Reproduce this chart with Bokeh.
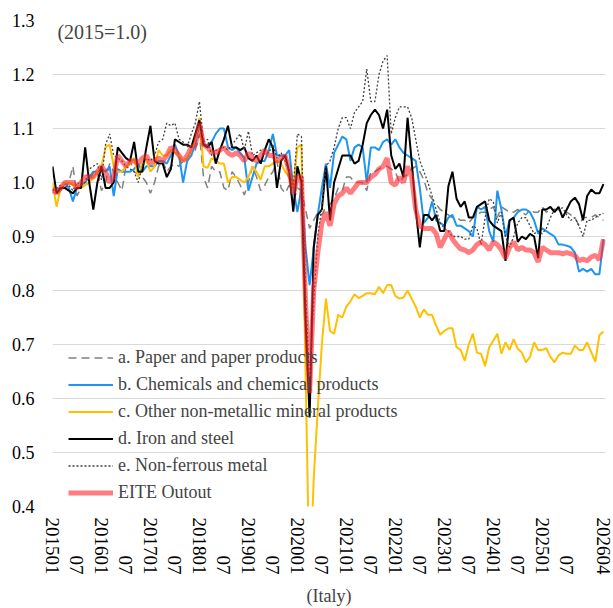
import math
from bokeh.plotting import figure
from bokeh.models import (Range1d, FixedTicker, Legend, LegendItem, Label,
                          ColumnDataSource, NumeralTickFormatter)
from bokeh.embed import file_html
from bokeh.resources import INLINE

# ---------------- data (index 2015=1.0), monthly 2015-01 .. 2026-04 ----------------
paper = [
    0.985, 0.99, 0.985, 0.99, 1.0, 1.03, 0.975, 0.99, 0.995, 1.0, 1.02, 1.02,
    0.985, 1.0, 1.035, 1.02, 1.0, 0.985, 1.03, 1.04, 1.02, 1.015, 1.01, 1.0,
    0.98, 1.0, 1.03, 1.04, 1.02, 1.03, 1.035, 1.03, 1.04, 1.04, 1.05, 1.06,
    1.09, 1.01, 0.99, 1.03, 1.02, 1.02, 0.99, 0.985, 1.02, 1.01, 0.995, 0.977,
    1.0, 1.03, 1.01, 0.985, 0.995, 1.01, 1.02, 1.04, 0.99, 0.98, 0.995, 0.963,
    0.99, 0.985, 0.95, 0.915, 0.93, 0.945, 0.94, 0.955, 0.96, 0.97, 0.99, 0.985,
    1.01, 1.01, 1.0, 1.0, 1.0, 0.985, 1.02, 1.02, 1.025, 1.03, 1.03, 1.025,
    1.02, 1.0, 1.01, 1.015, 1.025, 1.03, 1.02, 1.005, 0.98, 0.97, 0.96, 0.95,
    0.945, 0.94, 0.935, 0.935, 0.93, 0.93, 0.925, 0.935, 0.94, 0.945, 0.945, 0.95,
    0.955, 0.935, 0.955, 0.95, 0.945, 0.945, 0.95, 0.945, 0.94, 0.95, 0.945, 0.945,
    0.955, 0.945, 0.95, 0.95, 0.95, 0.945, 0.945, 0.94, 0.935, 0.92, 0.935, 0.935,
    0.935, 0.94, 0.935, 0.93,
]
chemicals = [
    0.98, 0.99, 0.985, 1.0, 0.99, 0.965, 0.99, 0.995, 1.0, 1.01, 1.02, 1.02,
    1.025, 1.02, 1.03, 0.975, 1.025, 1.02, 1.02, 1.02, 1.025, 1.035, 1.02, 1.03,
    1.03, 1.03, 1.04, 1.04, 1.035, 1.05, 1.07, 1.05, 1.0, 1.04, 1.05, 1.07,
    1.11, 1.07, 1.07, 1.075, 1.09, 1.1, 1.1, 1.065, 1.06, 1.065, 1.055, 1.045,
    0.985, 1.01, 1.035, 1.04, 1.04, 1.06, 1.09, 1.05, 1.05, 1.05, 1.06, 0.99,
    0.945, 0.99, 0.88, 0.81, 0.877, 0.94, 0.99, 1.035, 0.99, 1.055, 1.07, 1.085,
    1.08, 1.04, 1.065, 1.07, 1.065, 1.0, 1.065, 1.065, 1.06, 1.075, 1.08, 1.07,
    1.08, 1.065, 1.055, 1.05, 1.045, 1.04, 0.99, 0.925, 0.935, 0.965, 0.93, 0.925,
    0.92, 0.935, 0.94, 0.92, 0.92, 0.915, 0.91, 0.9, 0.955, 0.95, 0.955, 0.91,
    0.89, 0.985, 0.95, 0.9, 0.93, 0.935, 0.945, 0.95, 0.95, 0.945, 0.93, 0.905,
    0.915, 0.91, 0.905, 0.9, 0.885, 0.885, 0.883, 0.88, 0.87, 0.835, 0.84, 0.835,
    0.84, 0.83, 0.83, 0.895,
]
nonmetallic = [
    1.0, 0.955, 0.99, 1.0, 1.0, 0.995, 0.995, 0.99, 0.995, 1.0, 1.01, 1.02,
    1.03, 1.065, 1.07, 1.03, 1.02, 1.02, 1.03, 1.035, 1.045, 1.01, 1.035, 1.04,
    1.02, 1.03, 1.06, 1.05, 1.05, 1.06, 1.055, 1.05, 1.04, 1.045, 1.06, 1.08,
    1.12, 1.03, 1.027, 1.045, 1.04, 1.035, 1.035, 1.0, 1.01, 1.01, 1.005, 1.0,
    1.01, 1.03, 1.02, 1.005, 1.03, 1.03, 1.035, 1.04, 1.035, 1.02, 1.01, 0.99,
    1.065, 1.07, 0.65, 0.25, 0.45, 0.58, 0.70, 0.785, 0.725, 0.72, 0.755, 0.75,
    0.77, 0.78, 0.793, 0.786, 0.79, 0.795, 0.795, 0.793, 0.807, 0.795, 0.81, 0.81,
    0.79, 0.785, 0.787, 0.80, 0.785, 0.77, 0.75, 0.765, 0.755, 0.755, 0.735, 0.718,
    0.725, 0.73, 0.73, 0.695, 0.69, 0.67, 0.70, 0.72, 0.685, 0.683, 0.66, 0.695,
    0.707, 0.72, 0.683, 0.704, 0.69, 0.71, 0.692, 0.685, 0.667, 0.677, 0.704, 0.69,
    0.69, 0.693, 0.677, 0.667, 0.68, 0.685, 0.683, 0.683, 0.698, 0.69, 0.69, 0.704,
    0.686, 0.668, 0.717, 0.724,
]
iron_steel = [
    1.03, 0.98, 0.99, 0.99, 0.985, 0.98, 0.99, 0.99, 1.065, 1.0, 0.95, 1.0,
    1.03, 0.99, 0.99, 1.0, 1.065, 1.055, 1.045, 1.04, 1.075, 1.02, 1.02, 1.065,
    1.105, 1.04, 1.035, 1.035, 1.01, 1.025, 1.08, 1.075, 1.07, 1.07, 1.065, 1.09,
    1.115, 1.07, 1.065, 1.075, 1.035, 1.06, 1.08, 1.105, 1.065, 1.065, 1.06, 1.065,
    1.045, 1.04, 1.05, 1.035, 1.06, 1.08, 1.065, 0.99, 1.04, 1.05, 1.02, 0.946,
    1.03, 1.0, 0.75, 0.565, 0.88, 0.94, 0.95, 1.03, 0.93, 1.0, 1.025, 1.05,
    1.05, 1.05, 1.035, 1.04, 1.07, 1.11, 1.125, 1.135, 1.125, 1.10, 1.135, 1.05,
    1.025, 1.035, 1.01, 1.12, 1.04, 0.95, 0.88, 0.94, 0.94, 0.93, 0.94, 0.91,
    0.91, 0.993, 1.02, 0.97, 0.955, 0.965, 0.935, 0.935, 0.955, 0.96, 0.965, 0.93,
    0.92, 0.915, 0.91, 0.855, 0.93, 0.935, 0.89, 0.9, 0.895, 0.905, 0.9, 0.86,
    0.95, 0.95, 0.955, 0.945, 0.955, 0.935, 0.95, 0.965, 0.972, 0.96, 0.93, 0.975,
    0.987, 0.98, 0.98, 0.997,
]
nonferrous = [
    0.985, 0.99, 0.995, 0.99, 0.995, 0.985, 1.0, 0.995, 1.0, 1.025, 1.03, 1.035,
    1.005, 1.07, 1.09, 1.05, 1.045, 1.04, 1.03, 1.025, 1.02, 1.0, 1.03, 1.045,
    1.04, 1.05, 1.075, 1.08, 1.11, 1.105, 1.11, 1.08, 1.075, 1.065, 1.09, 1.11,
    1.15, 1.075, 1.08, 1.05, 1.06, 1.06, 1.065, 1.06, 1.07, 1.08, 1.09, 1.06,
    1.095, 1.05, 1.055, 1.06, 1.055, 1.055, 1.07, 1.045, 1.055, 1.04, 1.02, 0.99,
    1.09, 1.085, 0.80, 0.62, 0.78, 0.90, 0.955, 1.03, 1.04, 1.065, 1.10, 1.12,
    1.12, 1.10, 1.13, 1.14, 1.15, 1.21, 1.15, 1.15, 1.20, 1.225, 1.235, 1.09,
    1.12, 1.14, 1.14, 1.14, 1.12, 1.08, 1.04, 1.02, 1.0, 0.975, 0.95, 0.925,
    0.915, 0.91, 0.9, 0.9, 0.9, 0.895, 0.895, 0.92, 0.915, 0.885, 0.935, 0.97,
    0.965, 0.925, 0.945, 0.9, 0.88, 0.9, 0.925, 0.935, 0.935, 0.92, 0.905, 0.91,
    0.905, 0.915, 0.935, 0.95, 0.95, 0.953, 0.94, 0.93, 0.935, 0.92, 0.9, 0.93,
    0.93, 0.935, 0.94, 0.943,
]
eite = [
    0.99, 0.98, 0.99, 1.0, 1.0, 1.0, 0.99, 1.0, 1.01, 1.01, 1.01, 1.02,
    1.03, 1.02, 1.0, 1.01, 1.05, 1.04, 1.03, 1.04, 1.04, 1.035, 1.045, 1.05,
    1.035, 1.04, 1.045, 1.04, 1.05, 1.065, 1.06, 1.05, 1.04, 1.05, 1.065, 1.07,
    1.11, 1.07, 1.065, 1.055, 1.055, 1.06, 1.065, 1.055, 1.05, 1.055, 1.05, 1.04,
    1.055, 1.045, 1.04, 1.05, 1.06, 1.05, 1.05, 1.04, 1.045, 1.05, 1.02, 0.98,
    1.01, 1.01, 0.78, 0.61, 0.80, 0.87, 0.925, 0.945, 0.92, 0.96, 0.975, 0.98,
    0.99, 0.98, 0.99, 1.0, 1.0, 1.0, 1.01, 1.015, 1.025, 1.03, 1.045, 1.0,
    0.995, 1.01, 1.0, 1.03, 1.01, 0.95, 0.92, 0.915, 0.915, 0.915, 0.905, 0.88,
    0.895, 0.91, 0.895, 0.885, 0.877, 0.875, 0.87, 0.875, 0.885, 0.89, 0.885, 0.875,
    0.89, 0.885, 0.875, 0.86, 0.88, 0.89, 0.875, 0.88, 0.875, 0.875, 0.87, 0.853,
    0.88, 0.875, 0.87, 0.87, 0.87, 0.868, 0.87, 0.868, 0.865, 0.855, 0.858, 0.855,
    0.862, 0.865, 0.857, 0.895,
]

series_labels = [
    "a. Paper and paper products",
    "b. Chemicals and chemical products",
    "c. Other non-metallic mineral products",
    "d. Iron and steel",
    "e. Non-ferrous metal",
    "EITE Outout",
]

# month keys YYYYMM for every point
months = []
for y in range(2015, 2027):
    for m in range(1, 13):
        months.append(f"{y}{m:02d}")
months = months[:len(eite)]

# tick months and their displayed labels
tick_months = []
tick_labels = []
for y in range(2015, 2026):
    tick_months += [f"{y}01", f"{y}07"]
    tick_labels += [f"{y}01", "07"]
tick_months.append("202604")
tick_labels.append("202604")

y_ticks = [0.4, 0.5, 0.6, 0.7, 0.8, 0.9, 1.0, 1.1, 1.2, 1.3]

# ---------------- plot ----------------
FONT = "'Liberation Serif', 'Times New Roman', 'DejaVu Serif', serif"
idx = list(range(len(months)))
src = ColumnDataSource(dict(x=idx, paper=paper, chemicals=chemicals,
                            nonmetallic=nonmetallic, iron_steel=iron_steel,
                            nonferrous=nonferrous, eite=eite))

p = figure(width=613, height=608, output_backend="svg", toolbar_location=None,
           x_range=Range1d(0, len(months) - 0.5), y_range=Range1d(0.4, 1.3),
           min_border_left=52, min_border_right=8, min_border_top=20,
           min_border_bottom=98)
p.outline_line_color = None
p.background_fill_color = "white"
p.border_fill_color = "white"

r_a = p.line("x", "paper", source=src, line_color="#808080", line_width=1.5,
             line_dash="8 5")
r_b = p.line("x", "chemicals", source=src, line_color="#1E96F0", line_width=2)
r_c = p.line("x", "nonmetallic", source=src, line_color="#FFC000", line_width=2)
r_d = p.line("x", "iron_steel", source=src, line_color="black", line_width=2)
r_e = p.line("x", "nonferrous", source=src, line_color="#404040", line_width=1.3,
             line_dash="2 2")
r_f = p.line("x", "eite", source=src, line_color="#FF272B", line_alpha=0.6,
             line_width=5)

# axes
p.yaxis.ticker = FixedTicker(ticks=y_ticks)
p.yaxis.formatter = NumeralTickFormatter(format="0.0")
tick_pos = [months.index(t) for t in tick_months]
p.xaxis.ticker = FixedTicker(ticks=tick_pos)
# short labels are end-aligned with the long ones (as in the original)
longest = max(len(t) for t in tick_labels)
p.xaxis.major_label_overrides = {
    pos: "\u00a0" * (2 * (longest - len(lab))) + lab
    for pos, lab in zip(tick_pos, tick_labels)
}
p.xaxis.major_label_orientation = -math.pi / 2

for ax in (p.xaxis[0], p.yaxis[0]):
    ax.axis_line_color = None
    ax.major_tick_line_color = None
    ax.minor_tick_line_color = None
    ax.major_tick_out = 0
    ax.major_tick_in = 0
    ax.major_label_text_font = FONT
    ax.major_label_text_color = "black"
p.yaxis.major_label_text_font_size = "18px"
p.xaxis.major_label_text_font_size = "19px"
p.yaxis.major_label_standoff = 18
p.xaxis.major_label_standoff = 11
p.xaxis.axis_label = "(Italy)"
p.xaxis.axis_label_text_font = FONT
p.xaxis.axis_label_text_font_size = "18px"
p.xaxis.axis_label_text_font_style = "normal"
p.xaxis.axis_label_standoff = 8

p.xgrid.grid_line_color = None
p.ygrid.ticker = FixedTicker(ticks=y_ticks)
p.ygrid.grid_line_color = "#d9d9d9"
p.ygrid.grid_line_width = 1

# legend
legend = Legend(items=[LegendItem(label=l, renderers=[r])
                       for l, r in zip(series_labels, [r_a, r_b, r_c, r_d, r_e, r_f])],
                location=(16, 0), background_fill_alpha=0, border_line_color=None,
                label_text_font=FONT, label_text_font_size="18px",
                glyph_width=45, glyph_height=27, label_height=27, spacing=0,
                padding=0, margin=0, label_standoff=5)
p.add_layout(legend)

p.add_layout(Label(x=1.2, y=1.278, text="(2015=1.0)", text_font=FONT,
                   text_font_size="20px", text_baseline="middle"))

open("out.html", "w").write(file_html(p, INLINE))
